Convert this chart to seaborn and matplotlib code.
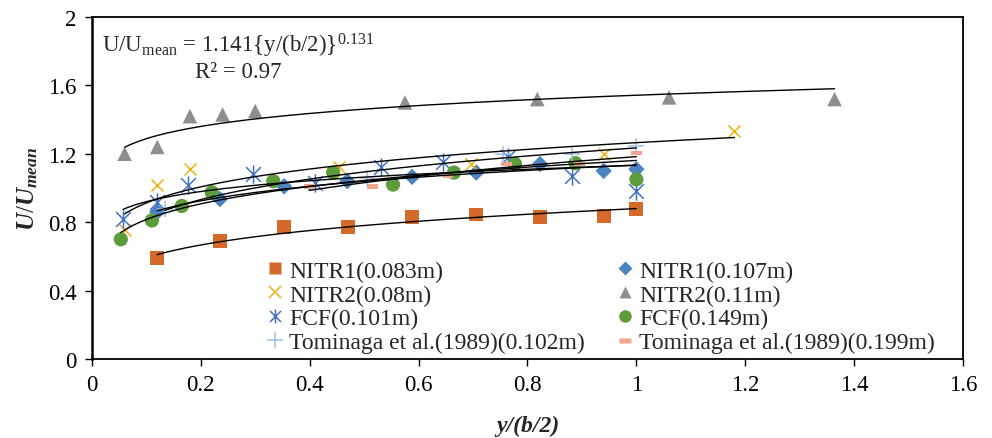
import numpy as np
import pandas as pd
import matplotlib
matplotlib.use("Agg")
import matplotlib.pyplot as plt
from matplotlib.path import Path
from matplotlib.lines import Line2D
import seaborn as sns

# ---------------- data ----------------
labels = ["NITR1(0.083m)", "NITR1(0.107m)", "NITR2(0.08m)", "NITR2(0.11m)",
          "FCF(0.101m)", "FCF(0.149m)",
          "Tominaga et al.(1989)(0.102m)", "Tominaga et al.(1989)(0.199m)"]

nitr1_083_x = [0.12, 0.235, 0.353, 0.47, 0.588, 0.706, 0.823, 0.94, 1.0]
nitr1_083_y = [0.59, 0.69, 0.77, 0.77, 0.832, 0.845, 0.828, 0.835, 0.877]

nitr1_107_x = [0.12, 0.235, 0.353, 0.469, 0.588, 0.706, 0.823, 0.94, 1.0]
nitr1_107_y = [0.86, 0.935, 1.01, 1.04, 1.065, 1.09, 1.14, 1.10, 1.11]

nitr2_080_x = [0.06, 0.12, 0.18, 0.454, 0.696, 0.94, 1.18]
nitr2_080_y = [0.754, 1.017, 1.11, 1.12, 1.14, 1.20, 1.335]

nitr2_110_x = [0.06, 0.12, 0.18, 0.24, 0.30, 0.575, 0.818, 1.06, 1.364]
nitr2_110_y = [1.20, 1.24, 1.42, 1.43, 1.45, 1.50, 1.52, 1.53, 1.52]

fcf_101_x = [0.057, 0.12, 0.177, 0.296, 0.41, 0.53, 0.645, 0.764, 0.882, 1.0]
fcf_101_y = [0.82, 0.92, 1.02, 1.08, 1.03, 1.125, 1.15, 1.18, 1.07, 0.98]

fcf_149_x = [0.053, 0.11, 0.165, 0.22, 0.333, 0.443, 0.553, 0.665, 0.777, 0.888, 1.0]
fcf_149_y = [0.70, 0.81, 0.895, 0.975, 1.04, 1.09, 1.02, 1.09, 1.14, 1.145, 1.05]

tom_102_x = [0.134, 0.505, 0.755, 0.882, 1.0]
tom_102_y = [0.877, 1.06, 1.20, 1.20, 1.247]

tom_199_x = [0.40, 0.515, 0.654, 0.762, 0.896, 1.0]
tom_199_y = [1.01, 1.01, 1.07, 1.14, 1.14, 1.205]

xs = [nitr1_083_x, nitr1_107_x, nitr2_080_x, nitr2_110_x, fcf_101_x, fcf_149_x, tom_102_x, tom_199_x]
ys = [nitr1_083_y, nitr1_107_y, nitr2_080_y, nitr2_110_y, fcf_101_y, fcf_149_y, tom_102_y, tom_199_y]

eq_text = "U/U$_{\\mathrm{mean}}$ = 1.141{y/(b/2)}$^{\\mathrm{0.131}}$"
r2_text = "R² = 0.97"

# ---------------- style ----------------
sns.set_style("ticks")
plt.rcParams["font.family"] = ["Liberation Serif", "DejaVu Serif"]
plt.rcParams["mathtext.fontset"] = "custom"
plt.rcParams["mathtext.rm"] = "Liberation Serif"
plt.rcParams["mathtext.it"] = "Liberation Serif:bold:italic"
plt.rcParams["mathtext.bf"] = "Liberation Serif:bold"

asterisk = Path([(-1, -1), (1, 1), (-1, 1), (1, -1), (0, -1.25), (0, 1.25)],
                [Path.MOVETO, Path.LINETO, Path.MOVETO, Path.LINETO, Path.MOVETO, Path.LINETO])
dash = Path([(-1, -0.45), (1, -0.45), (1, 0.45), (-1, 0.45), (-1, -0.45)],
            [Path.MOVETO, Path.LINETO, Path.LINETO, Path.LINETO, Path.CLOSEPOLY])

colors = ["#D5692A", "#4A84C1", "#EDB111", "#8E8E8E", "#4472C4", "#5E9B3B", "#9DC0E6", "#F2A58E"]
markers = ["s", "D", "x", "^", asterisk, "o", "+", dash]
sizes = [100, 70, 75, 110, 175, 105, 125, 60]
filled = [True, True, False, True, False, True, False, True]

fig = plt.figure(figsize=(9.92, 4.39), dpi=100)
ax = fig.add_axes([0.0927, 0.18, 0.8781, 0.779])

for i in range(len(labels)):
    df = pd.DataFrame({"x": xs[i], "y": ys[i]})
    kw = dict(marker=markers[i], s=sizes[i], color=colors[i], zorder=3)
    if filled[i]:
        kw.update(edgecolor="none", linewidth=0)
    else:
        kw.update(edgecolor=colors[i], linewidth=1.1)
    sns.scatterplot(data=df, x="x", y="y", ax=ax, legend=False, **kw)

# power trendlines (Excel style) computed from each series
for i in range(len(labels)):
    x = np.array(xs[i]); y = np.array(ys[i])
    b, lna = np.polyfit(np.log(x), np.log(y), 1)
    xx = np.linspace(x.min(), x.max(), 200)
    ax.plot(xx, np.exp(lna) * xx ** b, color="black", lw=1.0, zorder=4)

ax.set_xlim(0, 1.6)
ax.set_ylim(0, 2)
ax.set_xticks(np.arange(0, 1.61, 0.2))
ax.set_xticklabels(["0", "0.2", "0.4", "0.6", "0.8", "1", "1.2", "1.4", "1.6"])
ax.set_yticks(np.arange(0, 2.01, 0.4))
ax.set_yticklabels(["0", "0.4", "0.8", "1.2", "1.6", "2"])
ax.tick_params(direction="out", length=5, width=1, labelsize=16.5, colors="black", pad=6)
for sp in ax.spines.values():
    sp.set_visible(True)
    sp.set_color("black")
    sp.set_linewidth(1.3)
ax.spines["left"].set_linewidth(1.8)

ax.set_xlabel("y/(b/2)", fontsize=17, fontweight="bold", fontstyle="italic", labelpad=14)
ax.set_ylabel("$U/U_{mean}$", fontsize=18, labelpad=6)

ax.text(0.012, 0.96, eq_text, transform=ax.transAxes, fontsize=16.5, va="top", ha="left")
ax.text(0.118, 0.87, r2_text, transform=ax.transAxes, fontsize=16.5, va="top", ha="left")

handles = []
leg_sizes = [9, 7, 9, 8, 10, 9, 11, 8]
for i in range(len(labels)):
    if filled[i]:
        h = Line2D([], [], ls="none", marker=markers[i], markersize=leg_sizes[i],
                   markerfacecolor=colors[i], markeredgecolor="none", label=labels[i])
    else:
        h = Line2D([], [], ls="none", marker=markers[i], markersize=leg_sizes[i],
                   color=colors[i], markeredgewidth=1.1, label=labels[i])
    handles.append(h)
order = [0, 2, 4, 6, 1, 3, 5, 7]
ax.legend([handles[k] for k in order], [labels[k] for k in order], ncol=2,
          loc="lower left", bbox_to_anchor=(0.186, -0.025), frameon=False,
          fontsize=17, handlelength=0.6, handletextpad=0.3, columnspacing=1.4,
          labelspacing=0.1, borderaxespad=0.2)

fig.savefig("out.png", dpi=100)
